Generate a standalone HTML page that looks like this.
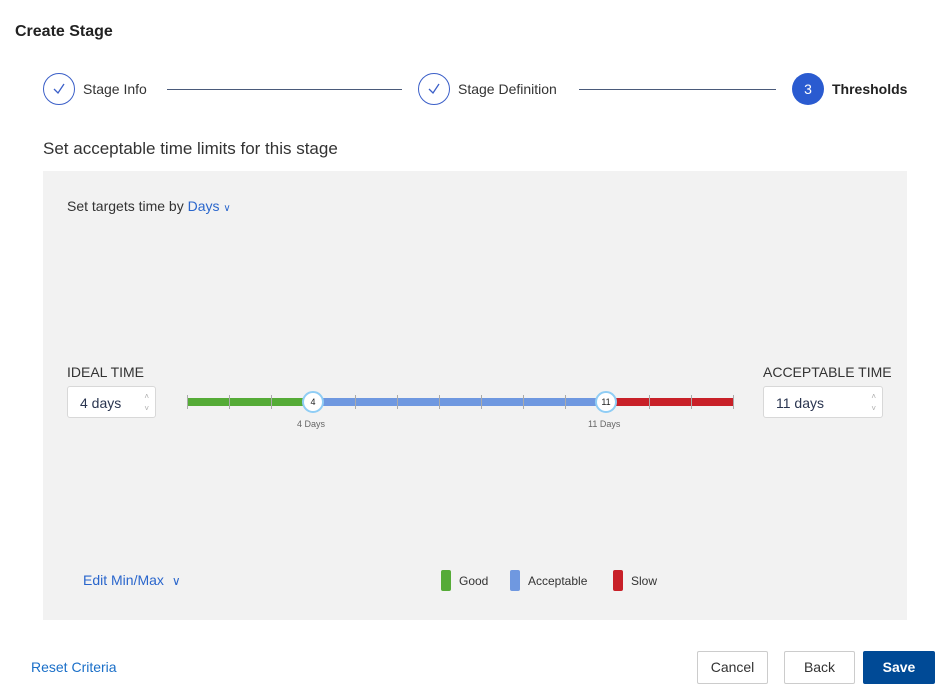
<!DOCTYPE html>
<html><head><style>
body{margin:0;width:948px;height:695px;background:#fff;font-family:"Liberation Sans",sans-serif;position:relative;overflow:hidden;color:#333}
.a{position:absolute;white-space:nowrap}
.circ{position:absolute;width:32px;height:32px;border-radius:50%;box-sizing:border-box}
.line{position:absolute;height:1px;background:#4a5a7a}
.inp{position:absolute;background:#fff;border:1px solid #d8d8d8;border-radius:3px;box-sizing:border-box;height:32px;font-size:14px;color:#2a3550;padding:8px 0 0 12px}
.arr{position:absolute;right:6px;font-size:8px;color:#aaa;line-height:8px}
.btn{position:absolute;top:651px;height:33px;box-sizing:border-box;border:1px solid #ccc;border-radius:2px;font-size:14px;text-align:center;line-height:31px;color:#333;background:#fff}
.tick{position:absolute;top:395px;width:1px;height:14px;background:#aaa}
.lg{position:absolute;top:570px;width:10px;height:21px;border-radius:2px}
</style></head><body>
<div class="a" style="left:15px;top:23px;font-size:16px;color:#222;font-weight:600">Create Stage</div>

<div class="circ" style="left:43px;top:73px;border:1px solid #3b5fc8"></div>
<svg class="a" style="left:51px;top:81px" width="16" height="16"><path d="M3 8 L7 12 L13 3" fill="none" stroke="#3b5fc8" stroke-width="1.3"/></svg>
<div class="a" style="left:83px;top:81px;font-size:14px;color:#333">Stage Info</div>
<div class="line" style="left:167px;top:89px;width:235px"></div>
<div class="circ" style="left:418px;top:73px;border:1px solid #3b5fc8"></div>
<svg class="a" style="left:426px;top:81px" width="16" height="16"><path d="M3 8 L7 12 L13 3" fill="none" stroke="#3b5fc8" stroke-width="1.3"/></svg>
<div class="a" style="left:458px;top:81px;font-size:14px;color:#333">Stage Definition</div>
<div class="line" style="left:579px;top:89px;width:197px"></div>
<div class="circ" style="left:792px;top:73px;background:#2a5bd0;color:#fff;font-size:14px;text-align:center;line-height:32px">3</div>
<div class="a" style="left:832px;top:81px;font-size:14px;color:#222;font-weight:bold">Thresholds</div>

<div class="a" style="left:43px;top:139px;font-size:17px;color:#333">Set acceptable time limits for this stage</div>

<div class="a" style="left:43px;top:171px;width:864px;height:449px;background:#f2f2f2"></div>
<div class="a" style="left:67px;top:198px;font-size:14px;color:#333">Set targets time by <span style="color:#2a66cc">Days</span> <span style="color:#2a66cc;font-size:10px">&#8744;</span></div>

<div class="a" style="left:67px;top:364px;font-size:14px;color:#333">IDEAL TIME</div>
<div class="inp" style="left:67px;top:386px;width:89px">4 days<span class="arr" style="top:6px">&#708;</span><span class="arr" style="top:18px">&#709;</span></div>
<div class="a" style="left:763px;top:364px;font-size:14px;color:#333">ACCEPTABLE TIME</div>
<div class="inp" style="left:763px;top:386px;width:120px">11 days<span class="arr" style="top:6px">&#708;</span><span class="arr" style="top:18px">&#709;</span></div>

<div class="a" style="left:187px;top:398px;width:126px;height:8px;background:#55ab37"></div>
<div class="a" style="left:313px;top:398px;width:293px;height:8px;background:#6f98e0"></div>
<div class="a" style="left:606px;top:398px;width:127px;height:8px;background:#c82028"></div>
<div class="tick" style="left:187px"></div><div class="tick" style="left:229px"></div><div class="tick" style="left:271px"></div>
<div class="tick" style="left:355px"></div><div class="tick" style="left:397px"></div><div class="tick" style="left:439px"></div><div class="tick" style="left:481px"></div><div class="tick" style="left:523px"></div><div class="tick" style="left:565px"></div>
<div class="tick" style="left:649px"></div><div class="tick" style="left:691px"></div><div class="tick" style="left:733px"></div>
<div class="circ" style="left:302px;top:391px;width:22px;height:22px;background:#fff;border:2px solid #8fcdf5;font-size:9px;text-align:center;line-height:18px;color:#222">4</div>
<div class="circ" style="left:595px;top:391px;width:22px;height:22px;background:#fff;border:2px solid #8fcdf5;font-size:9px;text-align:center;line-height:18px;color:#222">11</div>
<div class="a" style="left:297px;top:419px;font-size:9px;color:#666">4 Days</div>
<div class="a" style="left:588px;top:419px;font-size:9px;color:#666">11 Days</div>

<div class="a" style="left:83px;top:572px;font-size:14px;color:#2a66cc">Edit Min/Max <span style="font-size:12px;margin-left:4px">&#8744;</span></div>
<div class="lg" style="left:441px;background:#55ab37"></div><div class="a" style="left:459px;top:574px;font-size:12px;color:#333">Good</div>
<div class="lg" style="left:510px;background:#6f98e0"></div><div class="a" style="left:528px;top:574px;font-size:12px;color:#333">Acceptable</div>
<div class="lg" style="left:613px;background:#c82028"></div><div class="a" style="left:631px;top:574px;font-size:12px;color:#333">Slow</div>

<div class="a" style="left:31px;top:659px;font-size:14px;color:#1a6fc8">Reset Criteria</div>
<div class="btn" style="left:697px;width:71px">Cancel</div>
<div class="btn" style="left:784px;width:71px">Back</div>
<div class="btn" style="left:863px;width:72px;background:#004a96;border-color:#004a96;color:#fff;font-weight:bold">Save</div>
</body></html>
